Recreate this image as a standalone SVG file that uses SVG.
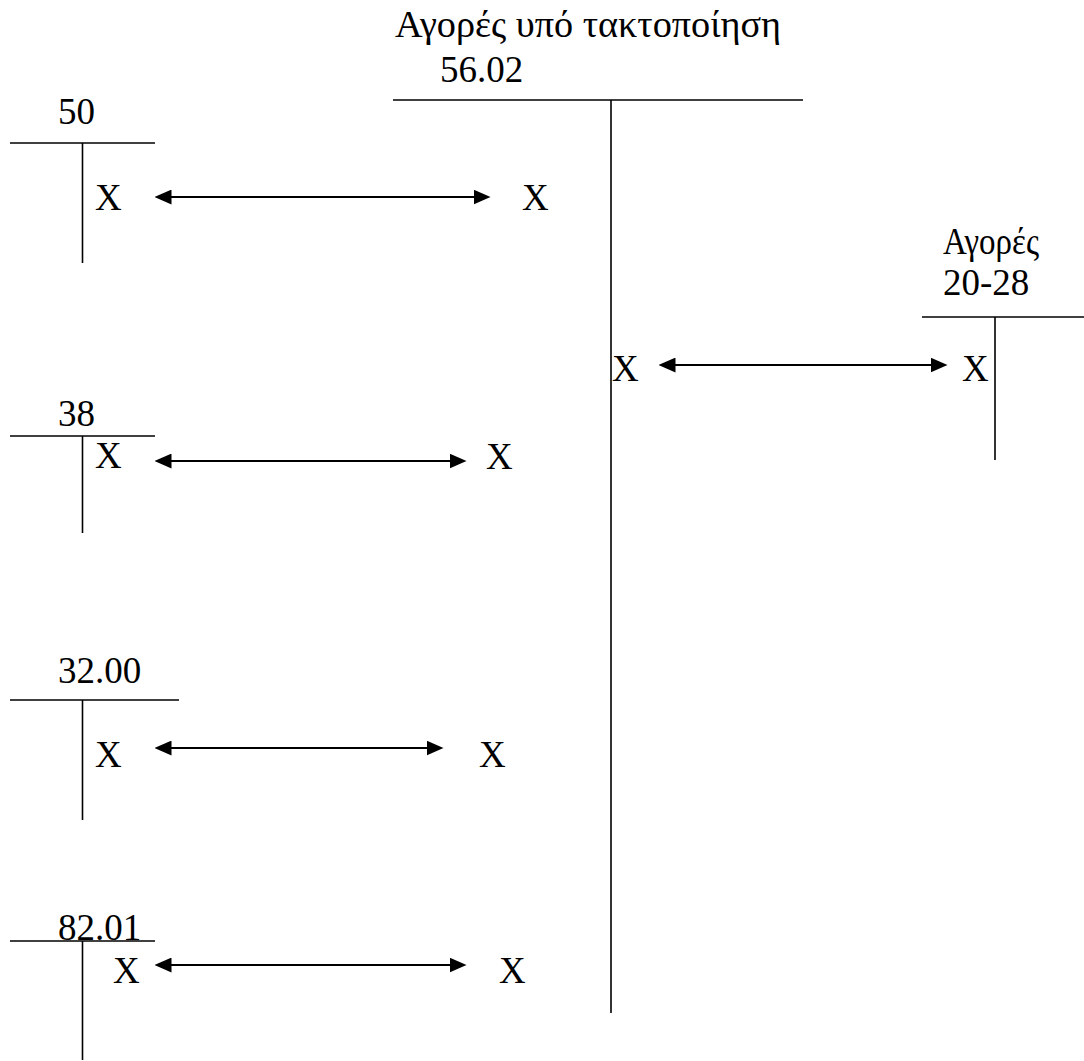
<svg xmlns="http://www.w3.org/2000/svg" width="1084" height="1061" viewBox="0 0 1084 1061">
<style>
.t{font-family:"Liberation Serif","Times New Roman","DejaVu Serif",serif;font-size:37px;fill:#000}
.ln{stroke:#000;stroke-width:1.6;fill:none}
.ar{stroke:#000;stroke-width:2;fill:none;marker-start:url(#ah);marker-end:url(#ah)}
</style>
<defs>
<marker id="ah" viewBox="0 0 16 14" refX="8" refY="7" markerWidth="17" markerHeight="15" markerUnits="userSpaceOnUse" orient="auto-start-reverse">
<path d="M0,0 L16,7 L0,14 Z" fill="#000"/>
</marker>
</defs>
<rect width="1084" height="1061" fill="#fff"/>
<g id="acc-5602">
<text class="t" x="395" y="37" textLength="386" lengthAdjust="spacingAndGlyphs">Αγορές υπό τακτοποίηση</text>
<text class="t" x="440" y="82">56.02</text>
<line class="ln" x1="393" y1="100" x2="803" y2="100"/>
<line class="ln" x1="611" y1="100" x2="611" y2="1013"/>
<text class="t" x="522" y="210">X</text>
<text class="t" x="612" y="381">X</text>
<text class="t" x="486" y="469">X</text>
<text class="t" x="479" y="767">X</text>
<text class="t" x="499" y="983">X</text>
</g>
<g id="acc-2028">
<text class="t" x="943" y="254" textLength="96" lengthAdjust="spacingAndGlyphs">Αγορές</text>
<text class="t" x="943" y="295">20-28</text>
<line class="ln" x1="922" y1="317" x2="1084" y2="317"/>
<line class="ln" x1="995" y1="317" x2="995" y2="460"/>
<text class="t" x="962" y="381">X</text>
</g>
<g id="acc-50">
<text class="t" x="58" y="124">50</text>
<line class="ln" x1="10" y1="143" x2="155" y2="143"/>
<line class="ln" x1="82.5" y1="143" x2="82.5" y2="263"/>
<text class="t" x="95" y="210">X</text>
</g>
<g id="acc-38">
<text class="t" x="58" y="426">38</text>
<line class="ln" x1="10" y1="436" x2="155" y2="436"/>
<line class="ln" x1="82.5" y1="436" x2="82.5" y2="533"/>
<text class="t" x="95" y="468">X</text>
</g>
<g id="acc-3200">
<text class="t" x="58" y="683">32.00</text>
<line class="ln" x1="10" y1="700" x2="179" y2="700"/>
<line class="ln" x1="82.5" y1="700" x2="82.5" y2="820"/>
<text class="t" x="95" y="767">X</text>
</g>
<g id="acc-8201">
<text class="t" x="58" y="940">82.01</text>
<line class="ln" x1="10" y1="941" x2="155" y2="941"/>
<line class="ln" x1="82.5" y1="941" x2="82.5" y2="1060"/>
<text class="t" x="113" y="983">X</text>
</g>
<g id="connectors">
<line class="ar" x1="163" y1="197" x2="482" y2="197"/>
<line class="ar" x1="667" y1="365" x2="939" y2="365"/>
<line class="ar" x1="163" y1="461" x2="458" y2="461"/>
<line class="ar" x1="163" y1="748" x2="435" y2="748"/>
<line class="ar" x1="163" y1="965" x2="458" y2="965"/>
</g>
</svg>
